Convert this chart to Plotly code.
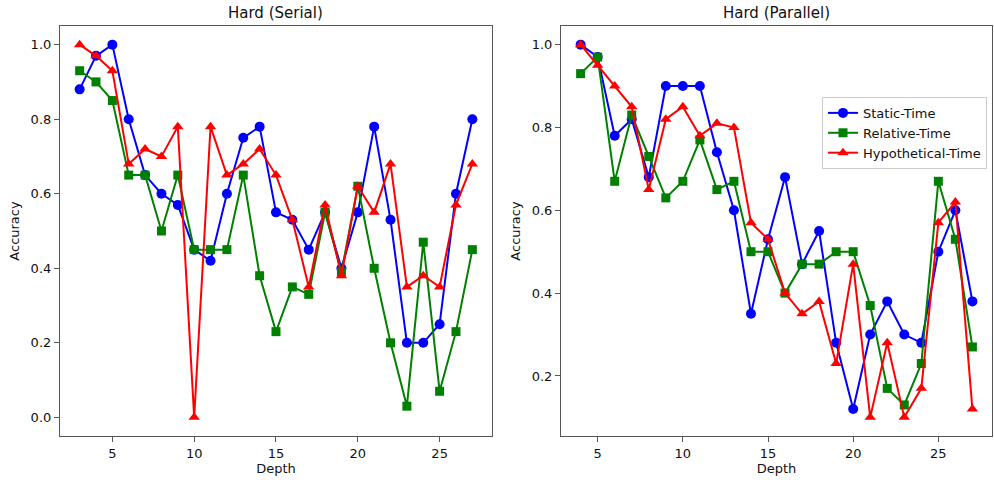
import plotly.graph_objects as go

depth_serial = list(range(3, 28))
static_serial = [0.88, 0.97, 1.0, 0.80, 0.65, 0.60, 0.57, 0.45, 0.42, 0.60, 0.75, 0.78, 0.55,
                 0.53, 0.45, 0.55, 0.40, 0.55, 0.78, 0.53, 0.20, 0.20, 0.25, 0.60, 0.80]
relative_serial = [0.93, 0.90, 0.85, 0.65, 0.65, 0.50, 0.65, 0.45, 0.45, 0.45, 0.65, 0.38, 0.23,
                   0.35, 0.33, 0.55, 0.39, 0.62, 0.40, 0.20, 0.03, 0.47, 0.07, 0.23, 0.45]
hypo_serial = [1.0, 0.97, 0.93, 0.68, 0.72, 0.70, 0.78, 0.0, 0.78, 0.65, 0.68, 0.72, 0.65,
               0.53, 0.35, 0.57, 0.38, 0.62, 0.55, 0.68, 0.35, 0.38, 0.35, 0.57, 0.68]

depth_parallel = list(range(4, 28))
static_parallel = [1.0, 0.97, 0.78, 0.82, 0.68, 0.90, 0.90, 0.90, 0.74, 0.60, 0.35, 0.53,
                   0.68, 0.47, 0.55, 0.28, 0.12, 0.30, 0.38, 0.30, 0.28, 0.50, 0.60, 0.38]
relative_parallel = [0.93, 0.97, 0.67, 0.83, 0.73, 0.63, 0.67, 0.77, 0.65, 0.67, 0.50, 0.50,
                     0.40, 0.47, 0.47, 0.50, 0.50, 0.37, 0.17, 0.13, 0.23, 0.67, 0.53, 0.27]
hypo_parallel = [1.0, 0.95, 0.90, 0.85, 0.65, 0.82, 0.85, 0.78, 0.81, 0.80, 0.57, 0.53,
                 0.40, 0.35, 0.38, 0.23, 0.47, 0.10, 0.28, 0.10, 0.17, 0.57, 0.62, 0.12]

series_names = ["Static-Time", "Relative-Time", "Hypothetical-Time"]
colors = ["#0000ff", "#008000", "#ff0000"]
symbols = ["circle", "square", "triangle-up"]
titles = ["Hard (Serial)", "Hard (Parallel)"]

FONT = "DejaVu Sans"
fig = go.Figure()

panels = [
    (depth_serial, [static_serial, relative_serial, hypo_serial], "x", "y", False),
    (depth_parallel, [static_parallel, relative_parallel, hypo_parallel], "x2", "y2", True),
]
for xs, ys_list, xa, ya, show in panels:
    for name, ys, c, s in zip(series_names, ys_list, colors, symbols):
        fig.add_trace(go.Scatter(
            x=xs, y=ys, mode="lines+markers", name=name, xaxis=xa, yaxis=ya,
            showlegend=show,
            line=dict(color=c, width=2),
            marker=dict(color=c, symbol=s, size=10 if s != "square" else 9, line=dict(width=0)),
        ))

axis_common = dict(
    showline=True, mirror=True, linecolor="#555555", linewidth=1.2,
    ticks="outside", ticklen=5, tickwidth=1.2, tickcolor="#555555",
    showgrid=False, zeroline=False, automargin=False,
    tickfont=dict(family=FONT, size=13, color="#111111"),
)

dom1 = [0.0, 0.4635]
dom2 = [0.5376, 1.0]

fig.update_layout(
    width=994, height=484,
    margin=dict(l=60, r=2, t=26, b=48, autoexpand=False),
    paper_bgcolor="white", plot_bgcolor="white",
    font=dict(family=FONT, size=13, color="#111111"),
    hovermode=False,
    xaxis=dict(domain=dom1, range=[1.8, 28.2], tickvals=[5, 10, 15, 20, 25],
               title=dict(text="Depth", standoff=2, font=dict(family=FONT, size=13)), **axis_common),
    yaxis=dict(domain=[0, 1], range=[-0.05, 1.05], tickvals=[0, 0.2, 0.4, 0.6, 0.8, 1.0],
               tickformat=".1f",
               title=dict(text="Accuracy", standoff=8, font=dict(family=FONT, size=13)), **axis_common),
    xaxis2=dict(domain=dom2, range=[2.85, 28.15], tickvals=[5, 10, 15, 20, 25], anchor="y2",
                title=dict(text="Depth", standoff=2, font=dict(family=FONT, size=13)), **axis_common),
    yaxis2=dict(domain=[0, 1], range=[0.055, 1.045], tickvals=[0.2, 0.4, 0.6, 0.8, 1.0],
                tickformat=".1f", anchor="x2",
                title=dict(text="Accuracy", standoff=8, font=dict(family=FONT, size=13)), **axis_common),
    legend=dict(
        x=0.8176, y=0.827, xanchor="left", yanchor="top",
        bgcolor="rgba(255,255,255,0.8)", bordercolor="#cccccc", borderwidth=1,
        font=dict(family=FONT, size=13), tracegroupgap=0, itemwidth=30,
    ),
)

for dom, t in zip([dom1, dom2], titles):
    fig.add_annotation(
        text=t, x=(dom[0] + dom[1]) / 2, y=1, xref="paper", yref="paper",
        xanchor="center", yanchor="middle", yshift=13, showarrow=False,
        font=dict(family=FONT, size=15, color="#111111"),
    )

fig.write_html("out.html", config={"displayModeBar": False},
               post_script="document.body.style.margin='0';")
